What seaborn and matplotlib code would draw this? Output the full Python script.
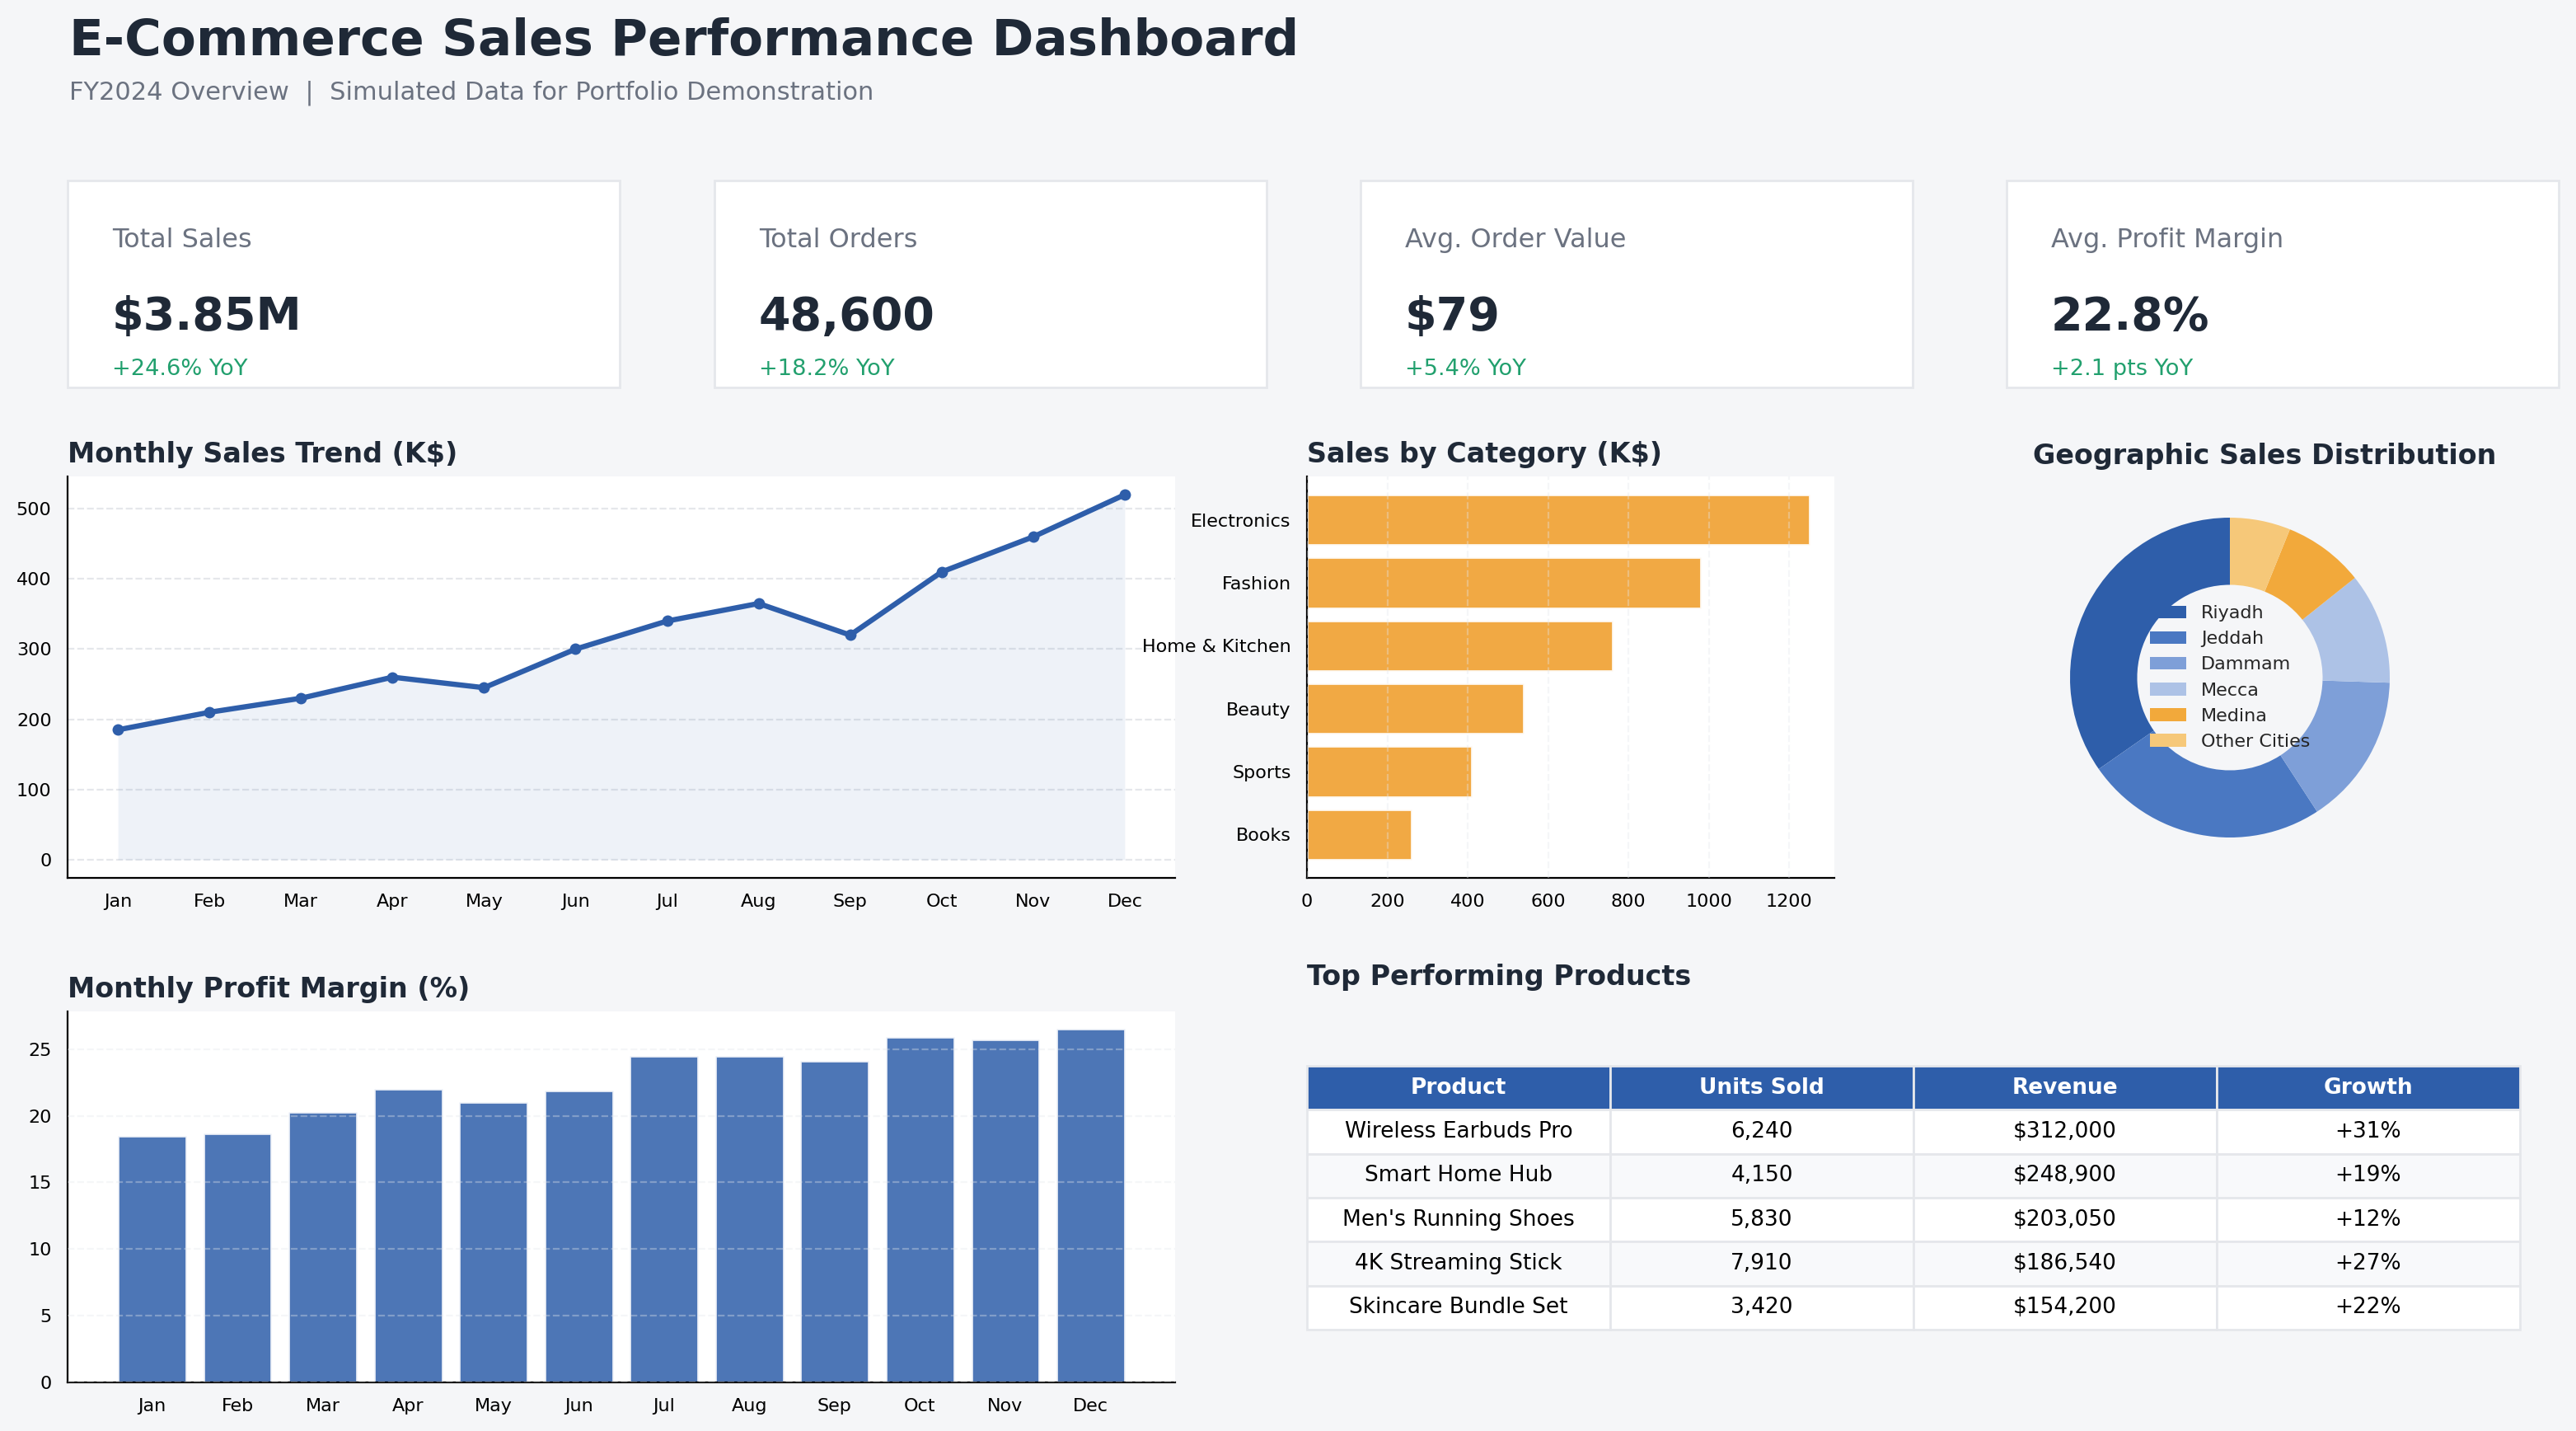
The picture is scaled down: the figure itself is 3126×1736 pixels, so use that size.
import numpy as np
import pandas as pd
import matplotlib
matplotlib.use("Agg")
import matplotlib.pyplot as plt
from matplotlib.patches import Rectangle
import seaborn as sns

# ---- data ----
months = ["Jan", "Feb", "Mar", "Apr", "May", "Jun", "Jul", "Aug", "Sep", "Oct", "Nov", "Dec"]
monthly_sales = [185, 210, 230, 260, 245, 300, 340, 365, 320, 410, 460, 520]
profit_margin = [18.5, 18.7, 20.3, 22.0, 21.0, 21.9, 24.5, 24.5, 24.1, 25.9, 25.7, 26.5]

categories = ["Electronics", "Fashion", "Home & Kitchen", "Beauty", "Sports", "Books"]
category_sales = [1250, 980, 760, 540, 410, 260]

cities = ["Riyadh", "Jeddah", "Dammam", "Mecca", "Medina", "Other Cities"]
city_share = [34, 24, 15, 11, 8, 6]

kpi_labels = ["Total Sales", "Total Orders", "Avg. Order Value", "Avg. Profit Margin"]
kpi_values = ["$3.85M", "48,600", "$79", "22.8%"]
kpi_changes = ["+24.6% YoY", "+18.2% YoY", "+5.4% YoY", "+2.1 pts YoY"]

table_cols = ["Product", "Units Sold", "Revenue", "Growth"]
products = ["Wireless Earbuds Pro", "Smart Home Hub", "Men's Running Shoes", "4K Streaming Stick", "Skincare Bundle Set"]
units_sold = ["6,240", "4,150", "5,830", "7,910", "3,420"]
revenue = ["$312,000", "$248,900", "$203,050", "$186,540", "$154,200"]
growth = ["+31%", "+19%", "+12%", "+27%", "+22%"]

# ---- style ----
BG = "#f5f6f8"
DARK = "#1f2937"
GRAY = "#6b7280"
GREEN = "#22a06e"
BLUE = "#2e5eaa"
ORANGE = "#f0a030"
BORDER = "#e5e7eb"
city_colors = ["#2e5eaa", "#4a78c2", "#7e9fd8", "#adc2e6", "#f2a93b", "#f6c879"]

sns.set_style("white")
plt.rcParams["font.family"] = ["DejaVu Sans"]
plt.rcParams["xtick.labelsize"] = 8
plt.rcParams["ytick.labelsize"] = 8

W, H = 3126, 1736
fig = plt.figure(figsize=(W / 200, H / 200), dpi=200, facecolor=BG)


def box(x0, y0, x1, y1):
    # pixel box (top-left origin) -> figure fraction rect
    return [x0 / W, 1 - y1 / H, (x1 - x0) / W, (y1 - y0) / H]


def ftxt(x, y, s, **kw):
    fig.text(x / W, 1 - y / H, s, va="baseline", **kw)


def style_axes(ax):
    ax.set_facecolor("white")
    sns.despine(ax=ax)
    for side in ["left", "bottom"]:
        ax.spines[side].set_color("black")
    ax.tick_params(axis="both", length=3.5, color="black", labelcolor="black")


# ---- header ----
ftxt(84, 67, "E-Commerce Sales Performance Dashboard", fontsize=22, fontweight="bold", color=DARK)
ftxt(84, 121, "FY2024 Overview  |  Simulated Data for Portfolio Demonstration", fontsize=11, color=GRAY)

# ---- KPI cards ----
card_x = [82, 867, 1651, 2435]
for cx, lab, val, chg in zip(card_x, kpi_labels, kpi_values, kpi_changes):
    fig.patches.append(Rectangle((cx / W, 1 - 470 / H), 670 / W, 251 / H, transform=fig.transFigure,
                                 facecolor="white", edgecolor=BORDER, linewidth=1.0, zorder=0))
    ftxt(cx + 54, 300, lab, fontsize=11.5, color=GRAY)
    ftxt(cx + 54, 400, val, fontsize=20, fontweight="bold", color=DARK)
    ftxt(cx + 54, 455, chg, fontsize=9.8, color=GREEN)

# ---- monthly sales trend ----
ax1 = fig.add_axes(box(82, 578, 1426, 1065))
style_axes(ax1)
sales_df = pd.DataFrame({"month": months, "sales": monthly_sales})
ax1.fill_between(range(len(months)), monthly_sales, color=BLUE, alpha=0.08, linewidth=0)
sns.lineplot(data=sales_df, x="month", y="sales", ax=ax1, color=BLUE, linewidth=2.3,
             marker="o", markersize=5, markeredgewidth=0)
top = max(monthly_sales)
ax1.set_ylim(-0.05 * top, 1.05 * top)
ax1.grid(axis="y", linestyle="--", color=BORDER, linewidth=0.8)
ax1.set_xlabel("")
ax1.set_ylabel("")
ax1.set_yticks([0, 100, 200, 300, 400, 500])
ax1.set_title("Monthly Sales Trend (K$)", loc="left", fontsize=12, fontweight="bold", color=DARK)

# ---- sales by category ----
ax2 = fig.add_axes(box(1586, 578, 2226, 1065))
style_axes(ax2)
cat_df = pd.DataFrame({"category": categories, "sales": category_sales})
sns.barplot(data=cat_df, x="sales", y="category", orient="h", ax=ax2, color=ORANGE, alpha=0.9,
            width=0.8, saturation=1)
ax2.autoscale(enable=True, axis="both")
ax2.set_axisbelow(False)
ax2.grid(axis="x", linestyle="--", color=BORDER, linewidth=0.8, alpha=0.35)
ax2.set_xlabel("")
ax2.set_ylabel("")
ax2.set_xticks([0, 200, 400, 600, 800, 1000, 1200])
ax2.set_title("Sales by Category (K$)", loc="left", fontsize=12, fontweight="bold", color=DARK)

# ---- geographic donut ----
ax3 = fig.add_axes(box(2463.5, 579.5, 2948.5, 1064.5))
wedges, _ = ax3.pie(city_share, colors=city_colors, startangle=90, counterclock=True,
                    wedgeprops=dict(width=0.42, linewidth=0))
ax3.legend(wedges, cities, loc="center", frameon=False, fontsize=8)
ax3.set_title("Geographic Sales Distribution", x=0.587, fontsize=12, fontweight="bold", color=DARK)

# ---- monthly profit margin ----
ax4 = fig.add_axes(box(82, 1227, 1426, 1677))
style_axes(ax4)
pm_df = pd.DataFrame({"month": months, "margin": profit_margin})
sns.barplot(data=pm_df, x="month", y="margin", ax=ax4, color=BLUE, alpha=0.85, width=0.8, saturation=1)
ax4.autoscale(enable=True, axis="x")
ax4.set_axisbelow(False)
ax4.grid(axis="y", linestyle="--", color=BORDER, linewidth=0.8, alpha=0.35)
ax4.set_xlabel("")
ax4.set_ylabel("")
ax4.set_title("Monthly Profit Margin (%)", loc="left", fontsize=12, fontweight="bold", color=DARK)

# ---- top products table ----
ftxt(1586, 1195, "Top Performing Products", fontsize=12, fontweight="bold", color=DARK)
ax5 = fig.add_axes(box(1586, 1293, 3058, 1613))
ax5.axis("off")
cell_text = [list(r) for r in zip(products, units_sold, revenue, growth)]
tbl = ax5.table(cellText=cell_text, colLabels=table_cols, cellLoc="center", bbox=[0, 0, 1, 1])
tbl.auto_set_font_size(False)
tbl.set_fontsize(9.5)
for (r, c), cell in tbl.get_celld().items():
    cell.set_edgecolor(BORDER)
    cell.set_linewidth(1.0)
    if r == 0:
        cell.set_facecolor(BLUE)
        cell.get_text().set_color("white")
        cell.get_text().set_fontweight("bold")
    else:
        cell.set_facecolor("white" if r % 2 == 1 else "#f8f9fb")
        cell.get_text().set_color("black")

fig.savefig("out.png", dpi=200, facecolor=BG)
